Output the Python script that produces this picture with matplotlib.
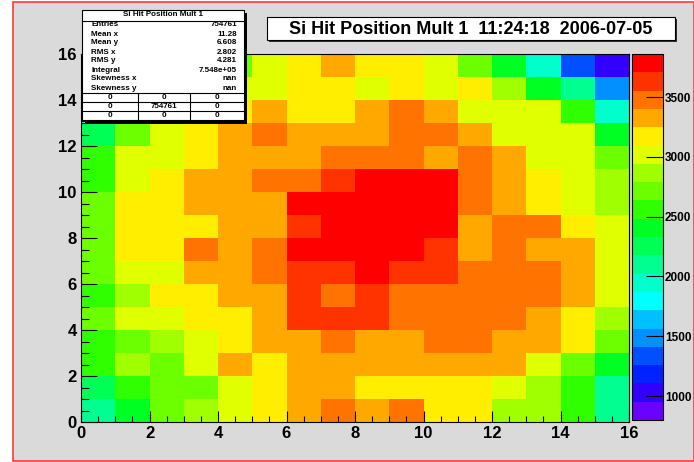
import numpy as np
import matplotlib
matplotlib.use('Agg')
import matplotlib.pyplot as plt
from matplotlib.colors import ListedColormap, BoundaryNorm
from matplotlib.patches import Rectangle
from matplotlib.lines import Line2D
from matplotlib.ticker import MultipleLocator, NullLocator

plt.rcParams['font.family'] = ['Liberation Sans', 'DejaVu Sans']

# Hits per strip pair, rows listed from y = 15 (top) down to y = 0
counts_rows = [
    [800, 1790, 2250, 2560, 2710, 3020, 3170, 3320, 3170, 3170, 3020, 2710, 2400, 1950, 1330, 1030],
    [1490, 2100, 2560, 2870, 3020, 3020, 3170, 3170, 3020, 3170, 3020, 3170, 2870, 2400, 2100, 1490],
    [1950, 2400, 2870, 3020, 3170, 3320, 3170, 3170, 3320, 3480, 3320, 3020, 3020, 3020, 2560, 1950],
    [2250, 2710, 3020, 3170, 3320, 3480, 3320, 3320, 3320, 3480, 3480, 3320, 3020, 3020, 3020, 2400],
    [2560, 3020, 3020, 3170, 3320, 3320, 3320, 3480, 3480, 3480, 3320, 3480, 3320, 3020, 3020, 2710],
    [2560, 3020, 3170, 3320, 3320, 3480, 3480, 3630, 3780, 3780, 3780, 3480, 3320, 3170, 3020, 2870],
    [2710, 3170, 3170, 3320, 3320, 3320, 3780, 3780, 3800, 3860, 3780, 3480, 3320, 3170, 3020, 2870],
    [2710, 3170, 3170, 3170, 3320, 3320, 3630, 3780, 3780, 3780, 3780, 3320, 3480, 3480, 3170, 3020],
    [2710, 3170, 3170, 3480, 3320, 3480, 3780, 3780, 3780, 3780, 3630, 3320, 3480, 3320, 3320, 3020],
    [2710, 3020, 3020, 3320, 3320, 3480, 3630, 3630, 3780, 3630, 3630, 3480, 3480, 3480, 3320, 3020],
    [2560, 2870, 3170, 3170, 3320, 3320, 3630, 3480, 3630, 3480, 3480, 3480, 3480, 3480, 3320, 3020],
    [2710, 3020, 3020, 3170, 3170, 3320, 3630, 3630, 3630, 3480, 3480, 3480, 3480, 3320, 3170, 2870],
    [2560, 2710, 2870, 3020, 3170, 3320, 3320, 3480, 3320, 3320, 3480, 3480, 3320, 3320, 3170, 2710],
    [2560, 2870, 2710, 3020, 3320, 3170, 3320, 3320, 3320, 3320, 3320, 3320, 3320, 3020, 2710, 2400],
    [2250, 2560, 2710, 2710, 3020, 3170, 3320, 3320, 3170, 3170, 3170, 3170, 3020, 2870, 2560, 2100],
    [2100, 2400, 2710, 2870, 3020, 3170, 3320, 3480, 3320, 3480, 3170, 3170, 2870, 2870, 2560, 2100],
]
x_edges = np.arange(0, 17)
y_edges = np.arange(0, 17)

# 20-step rainbow palette, low to high
palette = ['#6a00ff', '#3300ff', '#0022ff', '#0050ff', '#0090ff',
           '#00c0ff', '#00ffff', '#00ffcc', '#00ff90', '#00ff55',
           '#00ff22', '#30ff00', '#6cff00', '#a0ff00', '#e0ff00',
           '#ffee00', '#ffa800', '#ff7400', '#ff3300', '#ff0000']
cbar_ticks = [1000, 1500, 2000, 2500, 3000, 3500]

stat_names = ['Entries', 'Mean x', 'Mean y', 'RMS x', 'RMS y', 'Integral',
              'Skewness x', 'Skewness y']
stat_values = ['754761', '11.28', '6.608', '2.802', '4.281', '7.548e+05',
               'nan', 'nan']
overflow_grid = [['0', '0', '0'], ['0', '754761', '0'], ['0', '0', '0']]

title = 'Si Hit Position Mult 1  11:24:18  2006-07-05'
stats_title = 'Si Hit Position Mult 1'

counts = np.array(counts_rows)[::-1]

W, H = 694, 462
fig = plt.figure(figsize=(W / 100, H / 100), dpi=100, facecolor='white')


def fx(px):
    return px / W


def fy(py):
    return 1 - py / H


# canvas
fig.patches.append(Rectangle((fx(13), fy(461)), fx(694) - fx(13), fy(2) - fy(461),
                             transform=fig.transFigure, facecolor='#dadada',
                             edgecolor='#ff3a3a', lw=1.2, zorder=-10))

ax = fig.add_axes([fx(81), fy(422), fx(629) - fx(81), fy(54) - fy(422)])
zmin, zmax = counts.min(), counts.max()
levels = np.linspace(zmin, zmax, len(palette) + 1)
cmap = ListedColormap(palette)
norm = BoundaryNorm(levels, cmap.N)
mesh = ax.pcolormesh(x_edges, y_edges, counts, cmap=cmap, norm=norm,
                     antialiased=False, edgecolors='none')
ax.set_xlim(0, 16)
ax.set_ylim(0, 16)
for axis in (ax.xaxis, ax.yaxis):
    axis.set_major_locator(MultipleLocator(2))
    axis.set_minor_locator(MultipleLocator(0.5))
ax.tick_params(axis='x', which='major', direction='in', length=8, width=0.8, pad=3)
ax.tick_params(axis='x', which='minor', direction='in', length=4, width=0.8)
ax.tick_params(axis='y', which='major', direction='in', length=11.5, width=0.8, pad=3)
ax.tick_params(axis='y', which='minor', direction='in', length=6, width=0.8)
ax.tick_params(labelsize=12)
for lab in ax.get_xticklabels() + ax.get_yticklabels():
    lab.set_fontweight('bold')
for sp in ax.spines.values():
    sp.set_linewidth(0.8)

# palette axis
cax = fig.add_axes([fx(632), fy(420), fx(663) - fx(632), fy(54) - fy(420)])
cb = fig.colorbar(mesh, cax=cax, ticks=cbar_ticks)
cb.outline.set_linewidth(0.8)
cax.yaxis.set_minor_locator(NullLocator())
cax.tick_params(which='major', direction='in', length=12, width=0.8, pad=1.5,
                labelsize=8.5, right=True, left=False)
for lab in cax.get_yticklabels():
    lab.set_fontweight('bold')

# title box
fig.patches.append(Rectangle((fx(269), fy(42)), fx(677) - fx(269), fy(19) - fy(42),
                             transform=fig.transFigure, facecolor='#303030',
                             edgecolor='none', zorder=5))
fig.patches.append(Rectangle((fx(267), fy(40)), fx(675) - fx(267), fy(17) - fy(40),
                             transform=fig.transFigure, facecolor='white',
                             edgecolor='black', lw=0.8, zorder=6))
fig.text(fx(471), fy(29), title, ha='center', va='center', fontsize=13,
         fontweight='bold', zorder=7)

# statistics box
bx0, bx1, by0, by1 = 82, 244, 10, 121
fig.patches.append(Rectangle((fx(bx0 + 3), fy(by1 + 3)), fx(bx1) - fx(bx0), fy(by0) - fy(by1),
                             transform=fig.transFigure, facecolor='black',
                             edgecolor='none', zorder=5))
fig.patches.append(Rectangle((fx(bx0), fy(by1)), fx(bx1) - fx(bx0), fy(by0) - fy(by1),
                             transform=fig.transFigure, facecolor='white',
                             edgecolor='black', lw=0.8, zorder=6))


def hline(py):
    fig.add_artist(Line2D([fx(bx0), fx(bx1)], [fy(py), fy(py)], color='black',
                          lw=0.8, zorder=7))


fig.text(fx((bx0 + bx1) / 2), fy(15), stats_title, ha='center', va='center',
         fontsize=5.8, fontweight='bold', zorder=8)
hline(20.5)
for i, (name, val) in enumerate(zip(stat_names, stat_values)):
    yy = 25 + i * 9.0
    fig.text(fx(91), fy(yy), name, ha='left', va='center', fontsize=5.8,
             fontweight='bold', zorder=8)
    fig.text(fx(237), fy(yy), val, ha='right', va='center', fontsize=5.8,
             fontweight='bold', zorder=8)

grid_top = 92.7
row_h = 9.0
col_edges = [bx0, 138, 190, bx1]
for r in range(4):
    hline(grid_top + r * row_h)
for cx in col_edges[1:-1]:
    fig.add_artist(Line2D([fx(cx), fx(cx)], [fy(grid_top), fy(grid_top + 3 * row_h)],
                          color='black', lw=0.8, zorder=7))
for r, row in enumerate(overflow_grid):
    for c, cell in enumerate(row):
        xc = (col_edges[c] + col_edges[c + 1]) / 2
        fig.text(fx(xc), fy(grid_top + (r + 0.5) * row_h), cell, ha='center',
                 va='center', fontsize=5.8, fontweight='bold', zorder=8)

fig.savefig('out.png', dpi=100)
